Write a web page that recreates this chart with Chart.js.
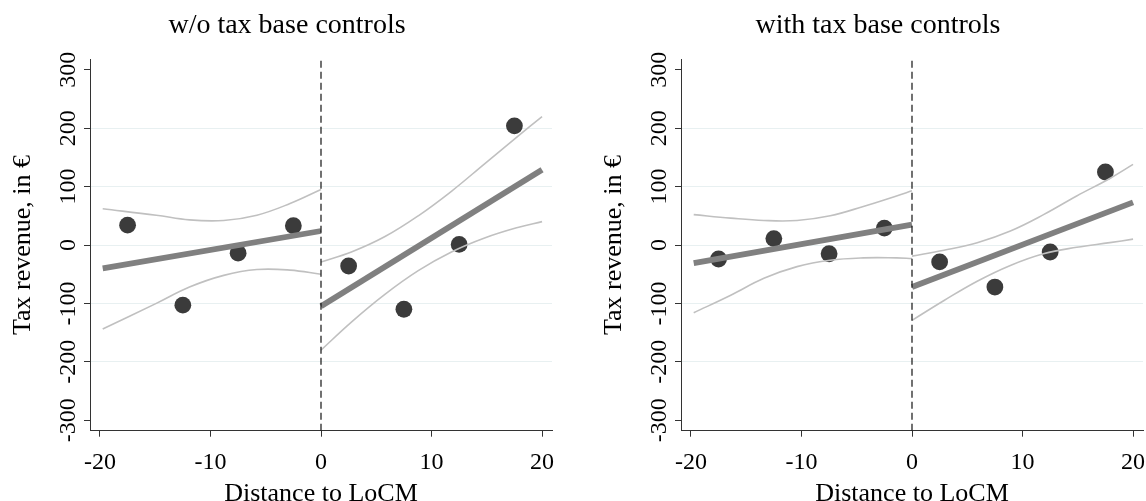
<!DOCTYPE html>
<html>
<head>
<meta charset="utf-8">
<script src="https://cdn.jsdelivr.net/npm/chart.js@4/dist/chart.umd.min.js"></script>
<style>
  html, body { margin: 0; padding: 0; background: #fff; overflow: hidden; width: 1146px; height: 501px; }
  canvas { position: absolute; top: 0; }
  #c1 { left: 0px; }
  #c2 { left: 591px; }
</style>
</head>
<body>
<canvas id="c1" width="574" height="510"></canvas>
<canvas id="c2" width="574" height="510"></canvas>
<script>
// ---- data ----
const panelTitles = ['w/o tax base controls', 'with tax base controls'];
const xAxisTitle = 'Distance to LoCM';
const yAxisTitle = 'Tax revenue, in €';
const xTicks = [-20, -10, 0, 10, 20];
const yTicks = [-300, -200, -100, 0, 100, 200, 300];
const xRange = [-20.9, 20.9];
const yRange = [-318, 318];
const cutoff = 0;

const binX = [-17.5, -12.5, -7.5, -2.5, 2.5, 7.5, 12.5, 17.5];
const binNoCtrl = [34, -103, -14, 33, -36, -110, 1, 204];
const binCtrl = [-24, 11, -15, 29, -29, -72, -12, 125];

const fitLeftX = [-19.75, 0];
const fitRightX = [0, 20];
const fitNoCtrlLeft = [-40, 24];
const fitNoCtrlRight = [-105, 129];
const fitCtrlLeft = [-31, 35];
const fitCtrlRight = [-72, 73];

const ciNoCtrlLeftX = [-19.75, -14.9, -11.9, -8.8, -5.8, -2.8, 0];
const ciNoCtrlLeftHi = [62, 51, 43, 42, 51, 71, 95];
const ciNoCtrlLeftLo = [-144, -100, -72, -52, -42, -43, -50];
const ciNoCtrlRightX = [0, 2.75, 5.75, 8.8, 11.8, 14.8, 17.8, 20];
const ciNoCtrlRightHi = [-29, -12, 14, 50, 92, 139, 186, 220];
const ciNoCtrlRightLo = [-180, -132, -85, -44, -12, 12, 30, 40];

const ciCtrlLeftX = [-19.75, -16.4, -13.4, -10.4, -7.4, -4.4, -1.4, 0];
const ciCtrlLeftHi = [52, 46, 42, 42, 50, 66, 84, 93];
const ciCtrlLeftLo = [-116, -86, -57, -37, -26, -22, -22, -23];
const ciCtrlRightX = [0, 2.9, 5.9, 8.9, 11.9, 14.9, 17.9, 20];
const ciCtrlRightHi = [-19, -9, 4, 24, 52, 84, 114, 138];
const ciCtrlRightLo = [-129, -95, -62, -35, -15, -4, 4, 10];

// ---- styling ----
const FONT = '"Liberation Serif", "Times New Roman", serif';
const C_POINT = '#3b3b3b';
const C_FIT = '#808080';
const C_CI = '#c0c0c0';
const C_AXIS = '#333333';
const C_GRID = '#e8f0f1';
const TICK_SIZE = 24;

function pts(xs, ys) { return xs.map((x, i) => ({ x: x, y: ys[i] })); }

function lineDS(xs, ys, color, width, order, tension) {
  return { type: 'scatter', data: pts(xs, ys), showLine: true, borderColor: color, backgroundColor: color,
           borderWidth: width, pointRadius: 0, pointHoverRadius: 0, fill: false,
           tension: tension, order: order, borderCapStyle: 'butt' };
}

const yLabelPlugin = {
  id: 'yLabels',
  afterDraw(chart) {
    const s = chart.scales.y;
    const ctx = chart.ctx;
    ctx.save();
    ctx.font = TICK_SIZE + 'px ' + FONT;
    ctx.fillStyle = '#000';
    ctx.textAlign = 'center';
    ctx.textBaseline = 'alphabetic';
    yTicks.forEach(v => {
      const py = s.getPixelForValue(v);
      ctx.save();
      ctx.translate(s.right - 15, py);
      ctx.rotate(-Math.PI / 2);
      ctx.fillText(String(v), 0, 0);
      ctx.restore();
    });
    ctx.restore();
  }
};

function makeChart(id, title, bins, fL, fR, ciLX, ciLH, ciLL, ciRX, ciRH, ciRL) {
  const datasets = [
    { type: 'scatter', data: pts([cutoff, cutoff], yRange), showLine: true, borderColor: '#111', borderWidth: 1.2,
      borderDash: [7, 4], pointRadius: 0, order: 0 },
    lineDS(fitLeftX, fL, C_FIT, 5.8, 1, 0),
    lineDS(fitRightX, fR, C_FIT, 5.8, 1, 0),
    lineDS(ciLX, ciLH, C_CI, 1.6, 2, 0.4),
    lineDS(ciLX, ciLL, C_CI, 1.6, 2, 0.4),
    lineDS(ciRX, ciRH, C_CI, 1.6, 2, 0.4),
    lineDS(ciRX, ciRL, C_CI, 1.6, 2, 0.4),
    { type: 'scatter', data: pts(binX, bins), pointRadius: 8.4, pointBackgroundColor: C_POINT,
      pointBorderWidth: 0, pointBorderColor: C_POINT, showLine: false, order: 3 }
  ];
  return new Chart(document.getElementById(id), {
    type: 'scatter',
    data: { datasets: datasets },
    options: {
      responsive: false,
      animation: false,
      events: [],
      layout: { padding: 0 },
      plugins: {
        legend: { display: false },
        tooltip: { enabled: false },
        title: {
          display: true, text: title, color: '#000',
          font: { family: FONT, size: 28, weight: 'normal', lineHeight: 1.2 },
          padding: { top: 8.7, bottom: 17 }
        }
      },
      scales: {
        x: {
          type: 'linear', position: 'bottom', min: xRange[0], max: xRange[1],
          afterBuildTicks: s => { s.ticks = xTicks.map(v => ({ value: v })); },
          afterFit: s => { s.height = 79.3; },
          grid: { drawOnChartArea: false, drawTicks: true, tickLength: 6, tickColor: C_AXIS, tickWidth: 1 },
          border: { display: true, color: C_AXIS, width: 1 },
          ticks: { color: '#000', padding: 12, font: { family: FONT, size: TICK_SIZE }, maxRotation: 0, minRotation: 0 },
          title: { display: true, text: xAxisTitle, color: '#000', font: { family: FONT, size: 26, lineHeight: 1.2 },
                   padding: { top: 0, bottom: 0 } }
        },
        y: {
          type: 'linear', position: 'left', min: yRange[0], max: yRange[1],
          afterBuildTicks: s => { s.ticks = yTicks.map(v => ({ value: v })); },
          afterFit: s => { s.width = 90; },
          grid: {
            drawTicks: true, tickLength: 6, tickColor: C_AXIS, tickWidth: 1, lineWidth: 1,
            color: c => (c.tick && Math.abs(c.tick.value) < 250) ? C_GRID : 'rgba(0,0,0,0)'
          },
          border: { display: true, color: C_AXIS, width: 1 },
          ticks: { display: false },
          title: { display: true, text: yAxisTitle, color: '#000', font: { family: FONT, size: 26, lineHeight: 1.2 },
                   padding: { top: 7.9, bottom: 0 } }
        },
        yPad: {
          type: 'linear', position: 'right', min: yRange[0], max: yRange[1], display: true,
          afterFit: s => { s.width = 22; },
          grid: { display: false, drawTicks: false },
          border: { display: false },
          ticks: { display: false }
        }
      }
    },
    plugins: [yLabelPlugin]
  });
}

makeChart('c1', panelTitles[0], binNoCtrl, fitNoCtrlLeft, fitNoCtrlRight,
          ciNoCtrlLeftX, ciNoCtrlLeftHi, ciNoCtrlLeftLo, ciNoCtrlRightX, ciNoCtrlRightHi, ciNoCtrlRightLo);
makeChart('c2', panelTitles[1], binCtrl, fitCtrlLeft, fitCtrlRight,
          ciCtrlLeftX, ciCtrlLeftHi, ciCtrlLeftLo, ciCtrlRightX, ciCtrlRightHi, ciCtrlRightLo);
</script>
</body>
</html>
